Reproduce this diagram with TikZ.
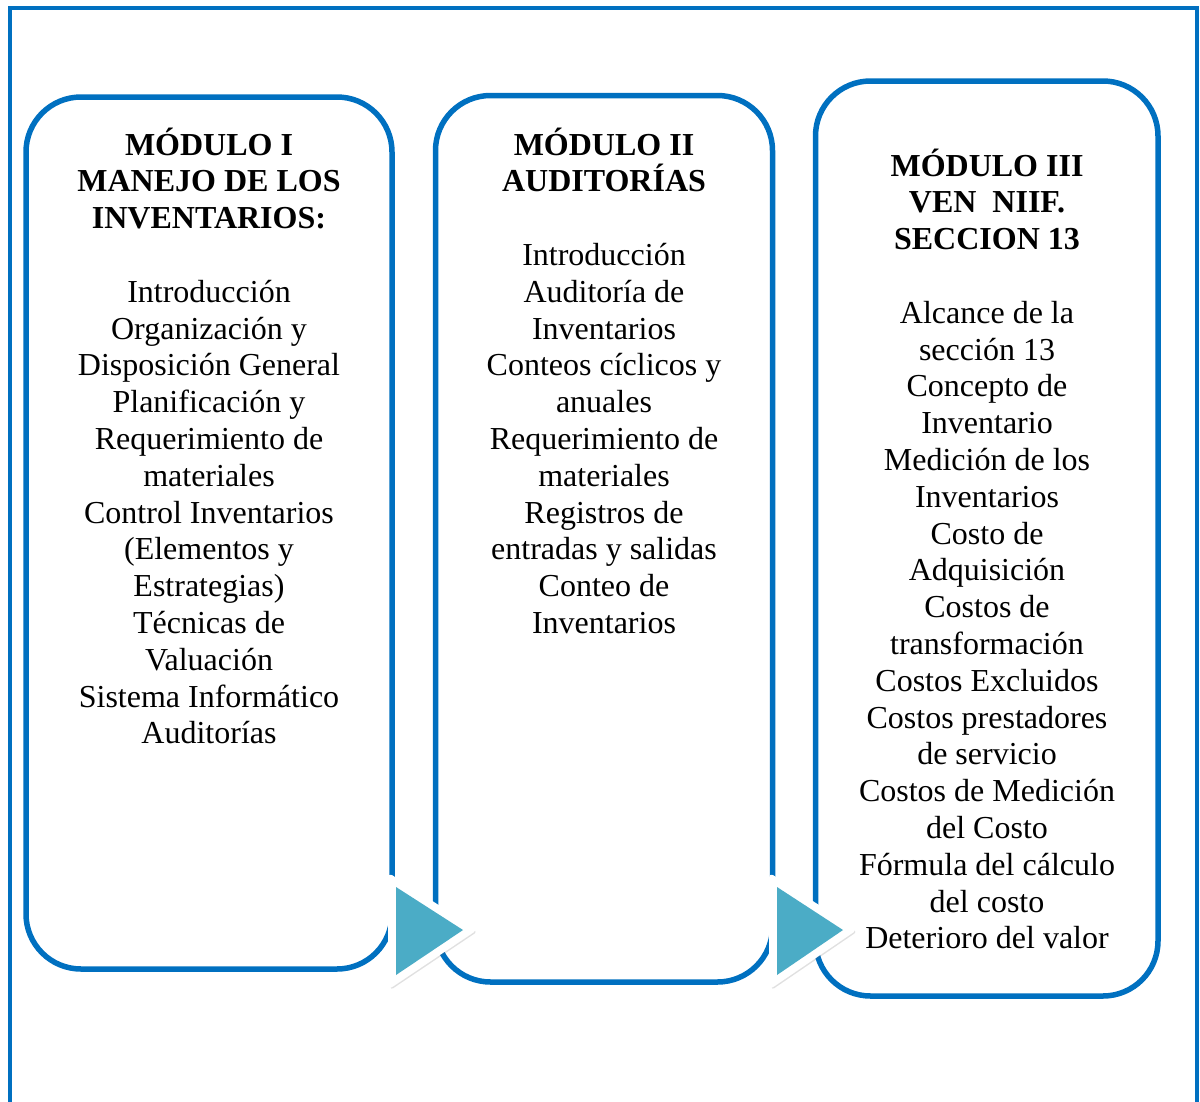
\documentclass[tikz,border=0pt]{standalone}
\usepackage{fontspec}
\setmainfont{Liberation Serif}
\usetikzlibrary{shadows}
\definecolor{modblue}{HTML}{0070C0}
\definecolor{arrowteal}{HTML}{4BACC6}
\begin{document}
\begin{tikzpicture}[x=1pt,y=-1pt,
  modbox/.style={draw=modblue,line width=5.5pt,rounded corners=55pt},
  frameline/.style={draw=modblue,line width=4pt},
  txt/.style={anchor=base,inner sep=0pt,font=\fontsize{32}{36.8}\selectfont},
  ttl/.style={anchor=base,inner sep=0pt,font=\fontsize{32}{36.8}\selectfont\bfseries},
  tririm/.style={fill=white,draw=white,line width=2pt,line join=round,rounded corners=3pt,
    drop shadow={shadow xshift=1.5pt,shadow yshift=-2pt,opacity=0.2,fill=black!60}},
  trifill/.style={fill=arrowteal}]
\useasboundingbox (0,0) rectangle (1200,1101);
\clip (0,0) rectangle (1200,1101);
% outer frame
\draw[frameline] (9.5,1130) -- (9.5,7.5) -- (1196.5,7.5) -- (1196.5,1130);
% module boxes
\draw[modbox] (26,97) rectangle (392,969);
\draw[modbox] (435.5,95.5) rectangle (772.5,982);
\draw[modbox] (815.5,81) rectangle (1158,996);
% box 1 text
\foreach [count=\i from 0] \t in {{MÓDULO I},{MANEJO DE LOS},{INVENTARIOS:}}
  \node[ttl] (ta\i) at (209,{155+36.8*\i}) {\t};
\foreach [count=\i from 4] \t in {{Introducción},{Organización y},{Disposición General},{Planificación y},{Requerimiento de},{materiales},{Control Inventarios},{(Elementos y},{Estrategias)},{Técnicas de},{Valuación},{Sistema Informático},{Auditorías}}
  \node[txt] (ba\i) at (209,{155+36.8*\i}) {\t};
% box 2 text
\foreach [count=\i from 0] \t in {{MÓDULO II},{AUDITORÍAS}}
  \node[ttl] (tb\i) at (604,{155+36.8*\i}) {\t};
\foreach [count=\i from 3] \t in {{Introducción},{Auditoría de},{Inventarios},{Conteos cíclicos y},{anuales},{Requerimiento de},{materiales},{Registros de},{entradas y salidas},{Conteo de},{Inventarios}}
  \node[txt] (bb\i) at (604,{155+36.8*\i}) {\t};
% box 3 text
\foreach [count=\i from 0] \t in {{MÓDULO III},{VEN\ \ NIIF.},{SECCION 13}}
  \node[ttl] (tc\i) at (987,{176+36.8*\i}) {\t};
\foreach [count=\i from 4] \t in {{Alcance de la},{sección 13},{Concepto de},{Inventario},{Medición de los},{Inventarios},{Costo de},{Adquisición},{Costos de},{transformación},{Costos Excluidos},{Costos prestadores},{de servicio},{Costos de Medición},{del Costo},{Fórmula del cálculo},{del costo},{Deterioro del valor}}
  \node[txt] (bc\i) at (987,{176+36.8*\i}) {\t};
% play triangles
\path[tririm,scale around={1.29:(419.7,930.4)}] (396,887) -- (463,930) -- (396,975) -- cycle;
\path[trifill] (396,887) -- (463,930) -- (396,975) -- cycle;
\path[tririm,scale around={1.29:(800.5,930.4)}] (777,887) -- (843,930) -- (777,975) -- cycle;
\path[trifill] (777,887) -- (843,930) -- (777,975) -- cycle;
\end{tikzpicture}
\end{document}
